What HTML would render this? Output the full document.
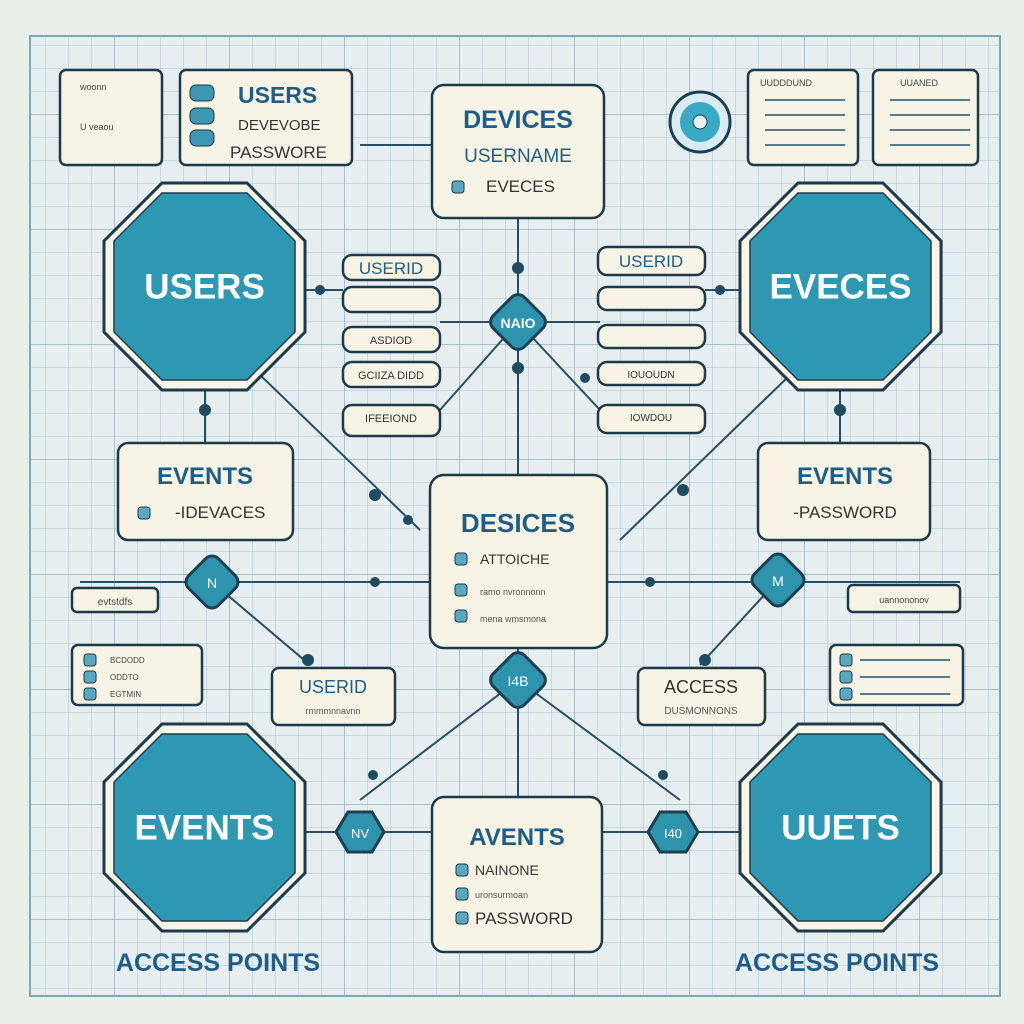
<!DOCTYPE html>
<html><head><meta charset="utf-8"><style>
html,body{margin:0;padding:0;background:#e9efe9;}
svg{display:block;font-family:"Liberation Sans",sans-serif;}
</style></head><body>
<svg width="1024" height="1024" viewBox="0 0 1024 1024">
<defs>
<pattern id="g" width="23" height="23" patternUnits="userSpaceOnUse"><path d="M23 0V23H0" fill="none" stroke="#a9c4d2" stroke-width="1"/></pattern>
<pattern id="G" width="115" height="115" patternUnits="userSpaceOnUse"><path d="M115 0V115H0" fill="none" stroke="#8fb1c4" stroke-width="1.5"/></pattern>
</defs>
<rect width="1024" height="1024" fill="#e9efe9"/>
<rect x="30" y="36" width="970" height="960" fill="#e6eef0" stroke="#7fa5b8" stroke-width="2"/>
<rect x="30" y="36" width="970" height="960" fill="url(#g)"/>
<rect x="30" y="36" width="970" height="960" fill="url(#G)"/>

<g stroke="#274e63" stroke-width="2" fill="none">
<line x1="518" y1="218" x2="518" y2="475"/>
<line x1="440" y1="322" x2="600" y2="322"/>
<line x1="518" y1="322" x2="440" y2="410"/>
<line x1="518" y1="322" x2="600" y2="410"/>
<line x1="255" y1="370" x2="420" y2="530"/>
<line x1="790" y1="375" x2="620" y2="540"/>
<line x1="80" y1="582" x2="430" y2="582"/>
<line x1="607" y1="582" x2="960" y2="582"/>
<line x1="212" y1="582" x2="310" y2="665"/>
<line x1="778" y1="580" x2="700" y2="665"/>
<line x1="518" y1="648" x2="518" y2="800"/>
<line x1="518" y1="680" x2="360" y2="800"/>
<line x1="518" y1="680" x2="680" y2="800"/>
<line x1="305" y1="832" x2="432" y2="832"/>
<line x1="602" y1="832" x2="740" y2="832"/>
<line x1="305" y1="290" x2="343" y2="290"/>
<line x1="705" y1="290" x2="740" y2="290"/>
<line x1="205" y1="390" x2="205" y2="443"/>
<line x1="840" y1="390" x2="840" y2="443"/>
<line x1="360" y1="145" x2="432" y2="145"/>
</g>
<g fill="#1f4a60">
<circle cx="518" cy="268" r="6"/><circle cx="518" cy="368" r="6"/><circle cx="375" cy="495" r="6"/><circle cx="683" cy="490" r="6"/>
<circle cx="205" cy="410" r="6"/><circle cx="840" cy="410" r="6"/><circle cx="375" cy="582" r="5"/><circle cx="650" cy="582" r="5"/>
<circle cx="308" cy="660" r="6"/><circle cx="705" cy="660" r="6"/><circle cx="373" cy="775" r="5"/><circle cx="663" cy="775" r="5"/>
<circle cx="320" cy="290" r="5"/><circle cx="720" cy="290" r="5"/><circle cx="408" cy="520" r="5"/><circle cx="585" cy="378" r="5"/>
</g>

<g id="octs"></g>

<g>
<g transform="translate(518,322) rotate(45)"><rect x="-22" y="-22" width="44" height="44" rx="9" fill="#2e93ad" stroke="#1d3f52" stroke-width="3"/></g>
<text x="518" y="328" font-size="14" fill="#fff" text-anchor="middle" font-weight="bold">NAIO</text>
<g transform="translate(212,582) rotate(45)"><rect x="-21" y="-21" width="42" height="42" rx="9" fill="#2e93ad" stroke="#1d3f52" stroke-width="3"/></g>
<text x="212" y="588" font-size="14" fill="#fff" text-anchor="middle">N</text>
<g transform="translate(778,580) rotate(45)"><rect x="-21" y="-21" width="42" height="42" rx="9" fill="#2e93ad" stroke="#1d3f52" stroke-width="3"/></g>
<text x="778" y="586" font-size="14" fill="#fff" text-anchor="middle">M</text>
<g transform="translate(518,680) rotate(45)"><rect x="-22" y="-22" width="44" height="44" rx="9" fill="#2e93ad" stroke="#1d3f52" stroke-width="3"/></g>
<text x="518" y="686" font-size="14" fill="#fff" text-anchor="middle">I4B</text>
<polygon points="336,832 348,812 372,812 384,832 372,852 348,852" fill="#2e93ad" stroke="#1d3f52" stroke-width="3"/>
<text x="360" y="838" font-size="13" fill="#fff" text-anchor="middle">NV</text>
<polygon points="648,832 660,812 686,812 698,832 686,852 660,852" fill="#2e93ad" stroke="#1d3f52" stroke-width="3"/>
<text x="673" y="838" font-size="13" fill="#fff" text-anchor="middle">I40</text>
</g>
<circle cx="700" cy="122" r="30" fill="#d8ecf2" stroke="#1d3f52" stroke-width="3"/>
<circle cx="700" cy="122" r="20" fill="#3aaac4"/>
<circle cx="700" cy="122" r="7" fill="#e6f3f6" stroke="#1d3f52"/>

<g id="boxes"></g>

<text x="218" y="971" font-size="25" fill="#1f5d88" text-anchor="middle" font-weight="bold">ACCESS POINTS</text>
<text x="837" y="971" font-size="25" fill="#1f5d88" text-anchor="middle" font-weight="bold">ACCESS POINTS</text>
</svg>
<script>
const NS='http://www.w3.org/2000/svg';
function mk(p,t,a,txt){const e=document.createElementNS(NS,t);for(const k in a)e.setAttribute(k,a[k]);if(txt!=null)e.textContent=txt;p.appendChild(e);return e;}
const octNames=['USERS','EVECES','EVENTS','UUETS'];
const octX=[104,740,104,740],octY=[183,183,724,724];
const og=document.getElementById('octs');
octNames.forEach((n,i)=>{const x=octX[i],y=octY[i],w=201,h=207,c=58;
 const pts=(d)=>[[x+c,y+d],[x+w-c,y+d],[x+w-d,y+c],[x+w-d,y+h-c],[x+w-c,y+h-d],[x+c,y+h-d],[x+d,y+h-c],[x+d,y+c]].map(p=>p.join(',')).join(' ');
 const g=mk(og,'g',{});
 
 
 mk(g,'polygon',{points:pts(0),fill:'#f7f5ea',stroke:'#1d3a4c','stroke-width':3});
 mk(g,'polygon',{points:pts(10),fill:'#2e98b3',stroke:'#1d3a4c','stroke-width':1.5});
 mk(g,'text',{x:x+w/2,y:y+h/2+12,'font-size':35,fill:'#fff','text-anchor':'middle','font-weight':'bold'},n);
});
const bg=document.getElementById('boxes');
function box(name,x,y,w,h,r,lines){const g=mk(bg,'g',{});
 
 
 mk(g,'rect',{x:x,y:y,width:w,height:h,rx:r,fill:'#f7f4e6',stroke:'#1d3a4c','stroke-width':2.5});
 (lines||[]).forEach(l=>{if(l.sq)mk(g,'rect',{x:l.sq[0],y:l.sq[1],width:12,height:12,rx:3,fill:'#5aa7c2',stroke:'#1d3a4c'});
  mk(g,'text',{x:l.x,y:l.y,'font-size':l.s,fill:l.c||'#1f5d88','text-anchor':l.a||'start','font-weight':l.b?'bold':'normal'},l.t);});}
box('devices-box',432,85,172,133,12,[{x:518,y:128,s:25,t:'DEVICES',a:'middle',b:1},{x:518,y:162,s:19,t:'USERNAME',a:'middle'},{x:486,y:192,s:17,t:'EVECES',c:'#333',sq:[452,181]}]);
box('desices-box',430,475,177,173,14,[{x:518,y:532,s:26,t:'DESICES',a:'middle',b:1},{x:480,y:564,s:14,t:'ATTOICHE',c:'#333',sq:[455,553]},{x:480,y:595,s:9,t:'ramo nvronnonn',c:'#555',sq:[455,584]},{x:480,y:622,s:9,t:'mena wmsmona',c:'#555',sq:[455,610]}]);
box('avents-box',432,797,170,155,12,[{x:517,y:845,s:24,t:'AVENTS',a:'middle',b:1},{x:475,y:875,s:14,t:'NAINONE',c:'#333',sq:[456,864]},{x:475,y:898,s:9,t:'uronsurmoan',c:'#555',sq:[456,888]},{x:475,y:924,s:17,t:'PASSWORD',c:'#333',sq:[456,912]}]);
box('events-left-box',118,443,175,97,10,[{x:205,y:484,s:24,t:'EVENTS',a:'middle',b:1},{x:175,y:518,s:17,t:'-IDEVACES',c:'#333',sq:[138,507]}]);
box('events-right-box',758,443,172,97,10,[{x:845,y:484,s:24,t:'EVENTS',a:'middle',b:1},{x:845,y:518,s:17,t:'-PASSWORD',c:'#333',a:'middle'}]);
box('userid-box',272,668,123,57,7,[{x:333,y:693,s:18,t:'USERID',a:'middle'},{x:333,y:714,s:9,t:'rmmmnnavnn',c:'#555',a:'middle'}]);
box('access-box',638,668,127,57,7,[{x:701,y:693,s:18,t:'ACCESS',c:'#333',a:'middle'},{x:701,y:714,s:10,t:'DUSMONNONS',c:'#555',a:'middle'}]);
const pillL=[255,287,327,362,405],pillLT=['USERID','','ASDIOD','GCIIZA DIDD','IFEEIOND'];
pillL.forEach((y,i)=>box('pill-left-'+i,343,y,97,i==4?31:25,9,[{x:391,y:y+(i?17:19),s:i?11:17,t:pillLT[i],a:'middle',c:i?'#333':'#1f5d88'}]));
const pillR=[247,287,325,362,405],pillRT=['USERID','','','IOUOUDN','IOWDOU'];
pillR.forEach((y,i)=>box('pill-right-'+i,598,y,107,i==0||i==4?28:23,9,[{x:651,y:y+(i?16:20),s:i?10:17,t:pillRT[i],a:'middle',c:i?'#333':'#1f5d88'}]));
box('card-tl1',60,70,102,95,6,[{x:80,y:90,s:9,t:'woonn',c:'#444'},{x:80,y:130,s:9,t:'U veaou',c:'#444'}]);
box('card-users',180,70,172,95,6,[{x:238,y:103,s:23,t:'USERS',b:1},{x:238,y:130,s:15,t:'DEVEVOBE',c:'#333'},{x:230,y:158,s:17,t:'PASSWORE',c:'#333'}]);
[[190,85],[190,108],[190,130]].forEach(p=>mk(bg,'rect',{x:p[0],y:p[1],width:24,height:16,rx:6,fill:'#3d97b3',stroke:'#1d3a4c'}));
box('card-tr1',748,70,110,95,6,[{x:760,y:86,s:9,t:'UUDDDUND',c:'#444'}]);
box('card-tr2',873,70,105,95,6,[{x:900,y:86,s:9,t:'UUANED',c:'#444'}]);
box('card-l1',72,588,86,24,5,[{x:115,y:605,s:10,t:'evtstdfs',c:'#444',a:'middle'}]);
box('card-l2',72,645,130,60,6,[{x:110,y:663,s:8,t:'BCDODD',c:'#444',sq:[84,654]},{x:110,y:680,s:8,t:'ODDTO',c:'#444',sq:[84,671]},{x:110,y:697,s:8,t:'EGTMIN',c:'#444',sq:[84,688]}]);
box('card-r1',848,585,112,27,5,[{x:904,y:603,s:9,t:'uannononov',c:'#444',a:'middle'}]);
box('card-r2',830,645,133,60,6,[{x:860,y:663,s:8,t:'',sq:[840,654]},{x:860,y:680,s:8,t:'',sq:[840,671]},{x:860,y:697,s:8,t:'',sq:[840,688]}]);
[[765,100],[765,115],[765,130],[765,145],[890,100],[890,115],[890,130],[890,145],[860,660],[860,677],[860,694]].forEach(p=>mk(bg,'line',{x1:p[0],y1:p[1],x2:p[0]+(p[0]>850&&p[1]>600?90:80),y2:p[1],stroke:'#557a8c','stroke-width':2}));
</script>
</body></html>
